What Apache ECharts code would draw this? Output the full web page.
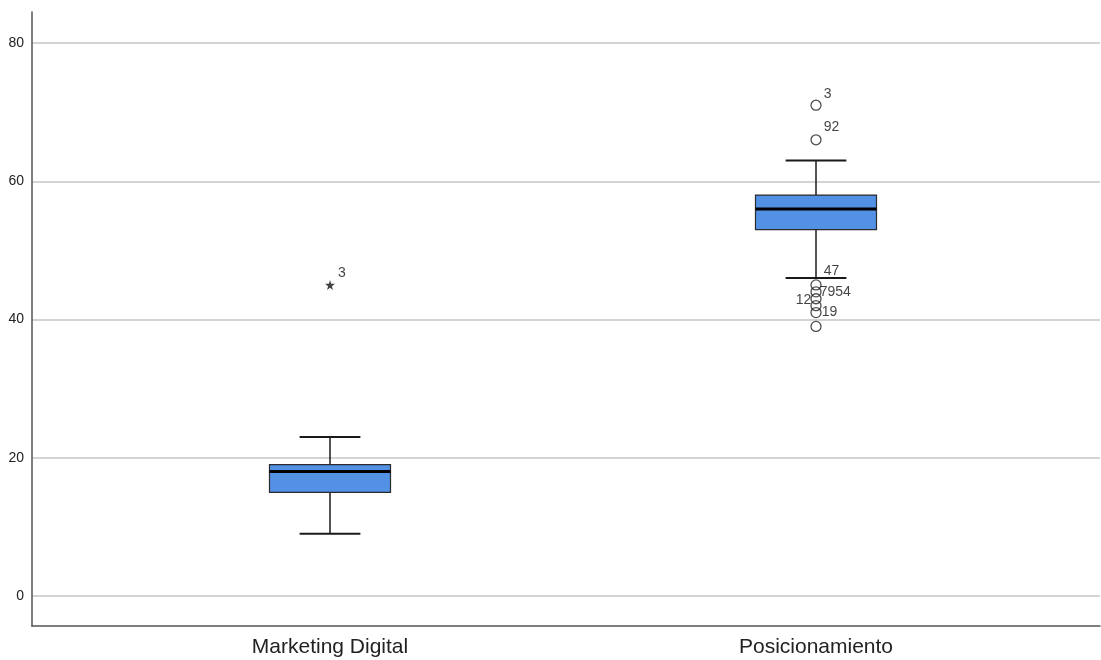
<!DOCTYPE html>
<html>
<head>
<meta charset="utf-8">
<title>Boxplot</title>
<script src="https://cdn.jsdelivr.net/npm/echarts@6/dist/echarts.min.js"></script>
<style>
  html, body { margin: 0; padding: 0; background: #fff; }
  #chart { width: 1101px; height: 660px; }
</style>
</head>
<body>
<div id="chart"></div>
<script>
// Variables
const categories = ['Marketing Digital', 'Posicionamiento'];

// Five-number summary per variable
const whiskerLow = [9, 46];
const q1 = [15, 53];
const median = [18, 56];
const q3 = [19, 58];
const whiskerHigh = [23, 63];

// Extreme value (star) for Marketing Digital, with case number
const extremeValues = [45];
const extremeCases = ['3'];

// Outliers (circles) for Posicionamiento, with case numbers
const outlierValues = [71, 66, 45, 44, 43, 42, 41, 39];
const outlierCases = ['3', '92', '47', '7954', '12', '', '19', ''];

// Y axis ticks
const yTicks = [0, 20, 40, 60, 80];

const FONT = '"Liberation Sans", Arial, sans-serif';
const BOX_FILL = '#5291e3';
const INK = '#1a1a1a';

// Case-label placement around each outlier marker
const labelPlacement = {
  '3':    { position: 'right', offset: [-1, -11] },
  '92':   { position: 'right', offset: [-1, -13] },
  '47':   { position: 'right', offset: [-1, -14] },
  '7954': { position: 'right', offset: [-5, 0] },
  '12':   { position: 'left',  offset: [4, 1] },
  '19':   { position: 'right', offset: [-3, 0] }
};

const boxData = categories.map((c, i) => [i, whiskerLow[i], q1[i], median[i], q3[i], whiskerHigh[i]]);

function renderBox(params, api) {
  const idx = api.value(0);
  const band = api.size([1, 0])[0];
  const boxW = band * 0.249;
  const capW = band * 0.125;
  const pLow = api.coord([idx, api.value(1)]);
  const pQ1 = api.coord([idx, api.value(2)]);
  const pMed = api.coord([idx, api.value(3)]);
  const pQ3 = api.coord([idx, api.value(4)]);
  const pHigh = api.coord([idx, api.value(5)]);
  const cx = pMed[0];
  const lineStyle = { stroke: INK, lineWidth: 1.5 };
  return {
    type: 'group',
    children: [
      { type: 'line', shape: { x1: cx, y1: pLow[1], x2: cx, y2: pQ1[1] }, style: lineStyle },
      { type: 'line', shape: { x1: cx, y1: pQ3[1], x2: cx, y2: pHigh[1] }, style: lineStyle },
      { type: 'line', shape: { x1: cx - capW / 2, y1: pLow[1], x2: cx + capW / 2, y2: pLow[1] }, style: { stroke: INK, lineWidth: 2 } },
      { type: 'line', shape: { x1: cx - capW / 2, y1: pHigh[1], x2: cx + capW / 2, y2: pHigh[1] }, style: { stroke: INK, lineWidth: 2 } },
      { type: 'rect', shape: { x: cx - boxW / 2, y: pQ3[1], width: boxW, height: pQ1[1] - pQ3[1] },
        style: { fill: BOX_FILL, stroke: '#2b2b2b', lineWidth: 1.2 } },
      { type: 'line', shape: { x1: cx - boxW / 2, y1: pMed[1], x2: cx + boxW / 2, y2: pMed[1] }, style: { stroke: '#000', lineWidth: 3 } }
    ]
  };
}

const STAR = 'path://M50,0 L61,35 L98,35 L68,57 L79,91 L50,70 L21,91 L32,57 L2,35 L39,35 Z';

const chart = echarts.init(document.getElementById('chart'), null, { renderer: 'canvas' });

chart.setOption({
  animation: false,
  backgroundColor: '#ffffff',
  textStyle: { fontFamily: FONT },
  grid: [
    // frame: axis lines
    { left: 32, right: 1, top: 12, bottom: 34 },
    // value scale: tick labels and grid lines
    { left: 32, right: 1, top: 43, bottom: 64 },
    // plotting band for the two variables
    { left: 87, width: 972, top: 43, bottom: 64 }
  ],
  xAxis: [
    { gridIndex: 0, type: 'value', min: 0, max: 1,
      axisLine: { show: true, onZero: false, lineStyle: { color: '#555', width: 1.5 } },
      axisTick: { show: false }, axisLabel: { show: false }, splitLine: { show: false } },
    { gridIndex: 1, type: 'value', min: 0, max: 1, show: false },
    { gridIndex: 2, type: 'category', data: categories, boundaryGap: true,
      axisLine: { show: false }, axisTick: { show: false }, splitLine: { show: false },
      axisLabel: { color: '#222', fontSize: 21, fontFamily: FONT, margin: 41 } }
  ],
  yAxis: [
    { gridIndex: 0, type: 'value', min: -4.34, max: 84.5,
      axisLine: { show: true, onZero: false, lineStyle: { color: '#555', width: 1.5 } },
      axisTick: { show: false }, axisLabel: { show: false }, splitLine: { show: false } },
    { gridIndex: 1, type: 'value', min: yTicks[0], max: yTicks[yTicks.length - 1], interval: yTicks[1] - yTicks[0],
      axisLine: { show: false }, axisTick: { show: false },
      axisLabel: { color: '#222', fontSize: 14, fontFamily: FONT, margin: 8, padding: [2, 0, 0, 0] },
      splitLine: { show: true, lineStyle: { color: '#c4c4c4', width: 1.5 } } },
    { gridIndex: 2, type: 'value', min: yTicks[0], max: yTicks[yTicks.length - 1], show: false }
  ],
  series: [
    {
      type: 'custom',
      xAxisIndex: 2, yAxisIndex: 2,
      renderItem: renderBox,
      data: boxData,
      z: 3
    },
    {
      type: 'scatter',
      xAxisIndex: 2, yAxisIndex: 2,
      symbol: STAR,
      symbolSize: 10,
      itemStyle: { color: '#111' },
      label: {
        show: true, position: 'right', offset: [-2, -12],
        formatter: p => extremeCases[p.dataIndex],
        color: '#111', fontSize: 14, fontFamily: FONT
      },
      data: extremeValues.map(v => [0, v]),
      z: 4
    },
    {
      type: 'scatter',
      xAxisIndex: 2, yAxisIndex: 2,
      symbol: 'circle',
      symbolSize: 10,
      itemStyle: { color: 'rgba(255,255,255,0)', borderColor: '#222', borderWidth: 1.3 },
      data: outlierValues.map((v, i) => {
        const txt = outlierCases[i];
        const place = labelPlacement[txt] || { position: 'right', offset: [0, 0] };
        return {
          value: [1, v],
          label: {
            show: txt !== '',
            formatter: txt,
            position: place.position,
            offset: place.offset,
            distance: 3,
            color: '#111', fontSize: 14, fontFamily: FONT
          }
        };
      }),
      z: 4
    }
  ]
});
</script>
</body>
</html>
